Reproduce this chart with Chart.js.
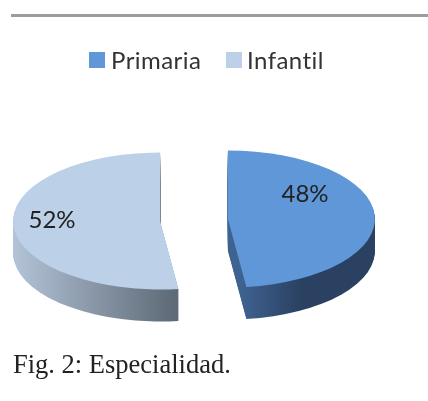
<!DOCTYPE html>
<html>
<head>
<meta charset="utf-8">
<title>Fig. 2: Especialidad.</title>
<script src="https://cdn.jsdelivr.net/npm/chart.js@4"></script>
<style>
html, body { margin: 0; padding: 0; background: #fff; }
#wrap { position: relative; width: 428px; height: 401px; overflow: hidden; }
#myChart { position: absolute; left: 0; top: 0; }
#rule { position: absolute; left: 11px; right: 0; top: 14px; height: 3px; background: #9c9c9c; }
#caption { position: absolute; left: 13px; top: 349px; margin: 0; font: 26.5px "Liberation Serif", serif; color: #222; white-space: nowrap; }
.key { position: absolute; top: 45px; font: 24px Lato, sans-serif; letter-spacing: 0.45px; line-height: 30px; color: #333; font-variant-ligatures: none; white-space: nowrap; }
.swatch { position: absolute; top: 52px; width: 16px; height: 16px; }
</style>
</head>
<body>
<div id="wrap">
	<canvas id="myChart" width="428" height="401"></canvas>
	<div id="rule"></div>
	<div id="legend"></div>
	<p id="caption">Fig. 2: Especialidad.</p>
</div>
<script>
const categories = ['Primaria', 'Infantil'];
const shares = [48, 52];
const sliceColors = ['#5f97d8', '#bcd0e8'];

// where the pie ends up on the page and how it is tilted
const pieX = 194;
const pieY = 220;
const tilt = 0.466;
const depth = 32;
const explode = 34;

// side wall shading, x is in page pixels
const wallStops = [
	[[240, '#3f6391'], [300, '#2b4162'], [400, '#2b4162']],
	[[12, '#b4c4d8'], [172, '#5f6b78']]
];
const labelSpots = [[305, 194], [52, 220]];
const swatchLeft = [89, 226];
const keyLeft = [111, 247];

// chart.js puts the legend text too far from its box, so this one is plain html
categories.forEach(function (name, i) {
	const swatch = document.createElement('div');
	swatch.className = 'swatch';
	swatch.style.left = swatchLeft[i] + 'px';
	swatch.style.background = sliceColors[i];
	const key = document.createElement('div');
	key.className = 'key';
	key.style.left = keyLeft[i] + 'px';
	key.textContent = name;
	document.getElementById('legend').append(swatch, key);
});

const pie3d = {
	id: 'pie3d',
	// the arc offset option also narrows the slice, so the arcs are moved here instead
	beforeDatasetDraw(chart, args) {
		const ctx = chart.ctx;
		const arcs = args.meta.data;
		const cx = arcs[0].x;
		const cy = arcs[0].y;

		function place(drop) {
			ctx.translate(pieX - cx, pieY + drop);
			ctx.scale(1, tilt);
			ctx.translate(0, -cy);
		}

		const moved = arcs.map(function (arc) {
			const mid = (arc.startAngle + arc.endAngle) / 2;
			const copy = Object.create(arc);
			copy.x = arc.x + Math.cos(mid) * explode;
			copy.y = arc.y + Math.sin(mid) * explode;
			return copy;
		});

		// side wall: the same arcs stacked downwards in a darker gradient
		moved.forEach(function (arc, i) {
			const stops = wallStops[i];
			const first = stops[0][0];
			const span = stops[stops.length - 1][0] - first;
			const shift = cx - pieX;
			const grad = ctx.createLinearGradient(first + shift, 0, first + span + shift, 0);
			stops.forEach(function (stop) {
				grad.addColorStop((stop[0] - first) / span, stop[1]);
			});
			const wall = Object.create(arc);
			wall.options = Object.assign({}, arc.options, { backgroundColor: grad });
			for (let d = depth; d > 0; d--) {
				ctx.save();
				place(d);
				wall.draw(ctx);
				ctx.restore();
			}
		});

		ctx.save();
		place(0);
		moved.forEach(function (arc) {
			arc.draw(ctx);
		});
		ctx.restore();

		ctx.save();
		ctx.font = '24px Lato';
		ctx.fillStyle = '#222';
		ctx.textAlign = 'center';
		ctx.textBaseline = 'middle';
		shares.forEach(function (share, i) {
			ctx.fillText(share + '%', labelSpots[i][0], labelSpots[i][1]);
		});
		ctx.restore();
		return false;
	}
};

new Chart(document.getElementById('myChart'), {
	type: 'pie',
	data: {
		labels: categories,
		datasets: [{
			data: shares,
			backgroundColor: sliceColors,
			borderWidth: 0
		}]
	},
	options: {
		responsive: false,
		animation: false,
		rotation: 0,
		radius: 147,
		plugins: {
			tooltip: { enabled: false },
			legend: { display: false }
		}
	},
	plugins: [pie3d]
});
</script>
</body>
</html>
